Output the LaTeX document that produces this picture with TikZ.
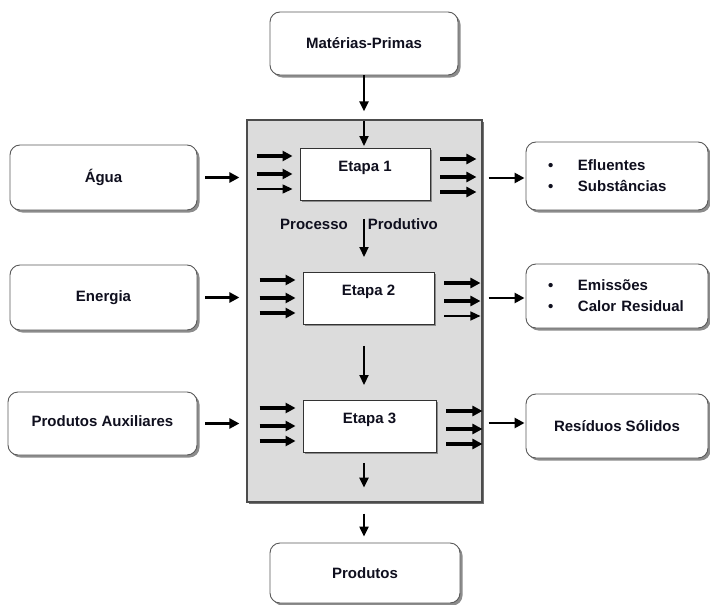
\documentclass[tikz,border=0pt]{standalone}
\usepackage{fontspec}
\setmainfont{Liberation Sans}
\usepackage{tikz}
\usetikzlibrary{positioning,calc,arrows.meta,shadows}
\definecolor{txtcol}{RGB}{15,15,30}
\definecolor{procfill}{RGB}{220,220,220}
\tikzset{
    io/.style={draw=black!65, line width=0.9pt, rounded corners=10pt, fill=white,
        drop shadow={shadow xshift=2.5pt, shadow yshift=-2.5pt, fill=black!45, opacity=1},
        font=\fontsize{15}{21}\selectfont\bfseries, text=txtcol},
    stage/.style={draw=black!80, line width=0.9pt, fill=white,
        drop shadow={shadow xshift=1.5pt, shadow yshift=-1.5pt, fill=black!45, opacity=1},
        font=\fontsize{15}{18}\selectfont\bfseries, text=txtcol,
        inner ysep=0pt, text height=23pt, text depth=29pt, anchor=north},
    proc/.style={draw=black!70, line width=1.2pt, fill=procfill,
        drop shadow={shadow xshift=2pt, shadow yshift=-2pt, fill=black!55, opacity=1}},
    fat/.style={-{Triangle[length=10pt,width=10pt]}, line width=3.4pt},
    thin/.style={-{Triangle[length=10pt,width=9pt]}, line width=1.4pt},
    feed/.style={-{Triangle[length=10pt,width=10pt]}, line width=2.8pt},
    down/.style={-{Triangle[length=10pt,width=9pt]}, line width=2.2pt},
}
\begin{document}
\begin{tikzpicture}[x=1pt, y=-1pt]
    \useasboundingbox (0,0) rectangle (710,605);

    % Process block
    \node[proc, minimum width=235pt, minimum height=382pt] (proc) at (364.5,311) {};
    \node[stage, minimum width=130pt] (e1) at (365,148) {Etapa 1};
    \node[stage, minimum width=131pt] (e2) at (368.5,272) {Etapa 2};
    \node[stage, minimum width=133pt] (e3) at (369.5,400) {Etapa 3};
    \node[font=\fontsize{15}{18}\selectfont\bfseries, text=txtcol] (lbl) at (359,224) {Processo\hspace{20pt}Produtivo};

    % Inputs and outputs
    \node[io, minimum width=188pt, minimum height=63pt] (mp) at (364,43.5) {Matérias-Primas\hspace{12pt}};
    \node[io, minimum width=187pt, minimum height=65pt] (agua) at (103.5,177.5) {Água};
    \node[io, minimum width=187pt, minimum height=65pt] (ener) at (103.5,297.5) {Energia};
    \node[io, minimum width=189pt, minimum height=63pt] (aux) at (102.5,423.5) {\raisebox{4pt}{Produtos Auxiliares}\hspace{8pt}};
    \node[io, minimum width=182pt, minimum height=68pt, inner xsep=22pt, text width=138pt, align=left] (eflu) at (617,176)
        {\makebox[30pt][l]{\textbullet}Efluentes\\\makebox[30pt][l]{\textbullet}Substâncias};
    \node[io, minimum width=182pt, minimum height=64pt, inner xsep=22pt, text width=138pt, align=left] (emis) at (617,296)
        {\makebox[30pt][l]{\textbullet}Emissões\\\makebox[30pt][l]{\textbullet}Calor Residual};
    \node[io, minimum width=182pt, minimum height=64pt] (resi) at (617,426) {Resíduos Sólidos};
    \node[io, minimum width=190pt, minimum height=60pt] (prod) at (365,573) {Produtos};

    % Main line
    \draw[down, shorten >=8pt] (mp.south) -- (mp.south |- proc.north);
    \draw[down, shorten <=2pt, shorten >=2pt] (mp.south |- proc.north) -- (mp.south |- e1.north);
    \draw[down, shorten <=18pt, shorten >=15pt] (mp.south |- e1.south) -- (mp.south |- e2.north);
    \draw[down, shorten <=21pt, shorten >=15pt] (mp.south |- e2.south) -- (mp.south |- e3.north);
    \draw[down, shorten <=10pt, shorten >=15pt] (mp.south |- e3.south) -- (mp.south |- proc.south);
    \draw[down, shorten <=11pt, shorten >=6pt] (mp.south |- proc.south) -- (mp.south |- prod.north);

    % Feeds into the process
    \foreach \src in {agua, ener, aux}
        \draw[feed, shorten <=8pt, shorten >=7pt] (\src.east) -- (\src.east -| proc.west);
    \draw[feed, shorten <=6pt, shorten >=1pt] (proc.east |- 0,178) coordinate (o1) -- (o1 -| eflu.west);
    \draw[feed, shorten <=6pt, shorten >=1pt] (proc.east |- 0,298) coordinate (o2) -- (o2 -| emis.west);
    \draw[feed, shorten <=6pt, shorten >=1pt] (proc.east |- 0,423) coordinate (o3) -- (o3 -| resi.west);

    % Stage arrows
    \foreach \s/\la/\ra in {e1/thin/fat, e2/fat/thin, e3/fat/fat} {
        \draw[fat] ($(\s.north west)+(-43,8)$) -- ++(36,0);
        \draw[fat] ($(\s.north west)+(-43,26)$) -- ++(36,0);
        \draw[\la] ($(\s.north west)+(-43,41)$) -- ++(36,0);
        \draw[fat] ($(\s.north east)+(10,11)$) -- ++(36,0);
        \draw[fat] ($(\s.north east)+(10,29)$) -- ++(36,0);
        \draw[\ra] ($(\s.north east)+(10,44)$) -- ++(36,0);
    }
\end{tikzpicture}
\end{document}
